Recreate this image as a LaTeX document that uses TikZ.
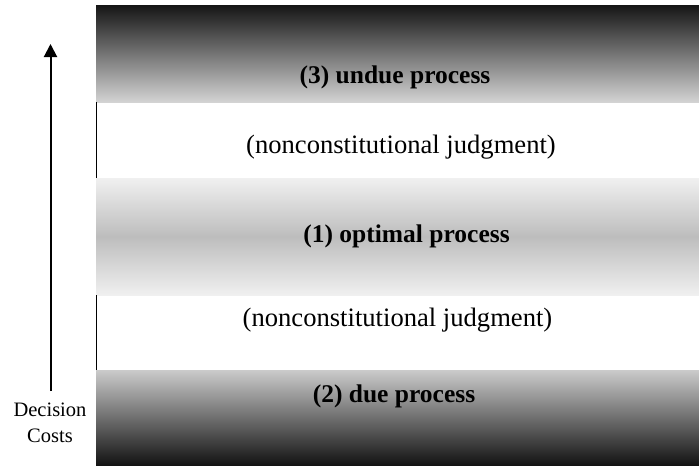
\documentclass[tikz,border=0pt]{standalone}
\usepackage{fontspec}
\setmainfont{Liberation Serif}
\usetikzlibrary{arrows.meta}

\begin{document}
\begin{tikzpicture}[x=1pt,y=-1pt,
  bandtext/.style={font=\fontsize{25.5}{31}\selectfont\bfseries},
  judgetext/.style={font=\fontsize{26.6}{31}\selectfont},
  axistext/.style={font=\fontsize{20.5}{26}\selectfont,align=center}]
\useasboundingbox (0,0) rectangle (699,466);
\definecolor{nearblack}{HTML}{151515}
\definecolor{silver}{HTML}{D3D3D3}
\definecolor{pale}{HTML}{F0F0F0}
\definecolor{midgray}{HTML}{BDBDBD}
\definecolor{ash}{HTML}{CBCBCB}
\definecolor{coal}{HTML}{111111}
\shade[top color=nearblack,bottom color=silver] (96,5) rectangle (699,102);
\shade[top color=pale,bottom color=pale,middle color=midgray] (96,178) rectangle (699,295);
\shade[top color=ash,bottom color=coal] (96,370) rectangle (699,466);
\node[bandtext] (undue) at (395,77) {(3) undue process};
\node[bandtext] (optimal) at (406.5,236) {(1) optimal process};
\node[bandtext] (due) at (394,396) {(2) due process};
\foreach \nm/\xpos/\ypos in {upper/401/147,lower/397.5/320}
  {  \node[judgetext] (judge\nm) at (\xpos,\ypos) {(nonconstitutional judgment)};}
\foreach \ya/\yb in {102/178,295/370}
  {  \draw[line width=1.3pt] (96.5,\ya) -- (96.5,\yb);}
\coordinate (costlow) at (50.5,391);
\coordinate (costhigh) at (50.5,44);
\draw[line width=2pt,-{Triangle[width=13pt,length=13pt]}] (costlow) -- (costhigh);
\node[axistext] (costs) at (50,423) {Decision\\Costs};
\end{tikzpicture}
\end{document}
